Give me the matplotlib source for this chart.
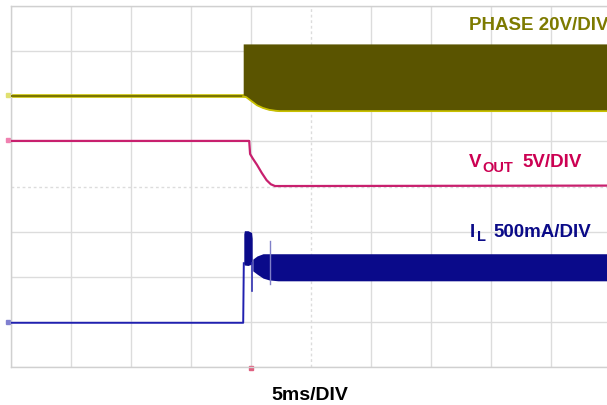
import numpy as np
import matplotlib.pyplot as plt

plt.rcParams['font.family'] = ['Liberation Sans', 'DejaVu Sans']

# scope readings, time in divisions (5 ms/div), level in divisions from bottom
phase_base_t = [0.0, 3.87]
phase_base_v = [6.0, 6.0]
phase_band_t = [3.87, 3.92, 4.0, 4.1, 4.2, 4.3, 4.4, 4.48, 10.0]
phase_band_top = [7.16, 7.16, 7.16, 7.16, 7.16, 7.16, 7.16, 7.16, 7.16]
phase_band_bot = [6.0, 5.98, 5.9, 5.8, 5.74, 5.7, 5.68, 5.67, 5.67]

vout_t = [0.0, 3.97, 3.985, 4.03, 4.1, 4.18, 4.26, 4.33, 4.4, 10.0]
vout_v = [5.01, 5.01, 4.72, 4.62, 4.48, 4.3, 4.14, 4.05, 4.01, 4.02]

il_base_t = [0.0, 3.87, 3.88]
il_base_v = [0.98, 0.98, 2.3]
il_blob_t = [3.88, 3.89, 3.95, 4.01, 4.02]
il_blob_top = [2.95, 3.02, 3.02, 2.98, 2.85]
il_blob_bot = [2.3, 2.26, 2.25, 2.28, 2.35]
il_dip_t = [4.02, 4.02]
il_dip_v = [2.3, 1.69]
il_band_t = [4.03, 4.1, 4.2, 4.3, 4.45, 10.0]
il_band_top = [2.39, 2.46, 2.51, 2.51, 2.51, 2.51]
il_band_bot = [2.13, 2.06, 1.97, 1.93, 1.91, 1.91]
il_tick_t = [4.32, 4.32]
il_tick_v = [2.79, 1.84]

W, H = 607, 406
fig = plt.figure(figsize=(W / 100, H / 100), dpi=100)
ax = fig.add_axes([11 / W, 38 / H, 600 / W, 361 / H])
ax.set_xlim(0, 10)
ax.set_ylim(0, 8)

# graticule
for x in range(11):
    ls = (0, (2, 2)) if x == 5 else '-'
    ax.axvline(x, color='#dcdcdc', lw=1, ls=ls, zorder=0)
for y in range(9):
    ls = (0, (2, 2)) if y == 4 else '-'
    ax.axhline(y, color='#dcdcdc', lw=1, ls=ls, zorder=0)
ax.set_xticks([])
ax.set_yticks([])
for s in ax.spines.values():
    s.set_color('#d0d0d0')
    s.set_linewidth(1)

# PHASE
ax.plot(phase_base_t, phase_base_v, color='#c8c000', lw=2.6, zorder=2)
ax.plot(phase_base_t, phase_base_v, color='#7a7400', lw=1.4, zorder=3)
ax.fill_between(phase_band_t, phase_band_bot, phase_band_top, color='#5a5400', lw=0, zorder=3)
ax.plot(phase_band_t, phase_band_bot, color='#c8c000', lw=1.3, zorder=4)

# VOUT
ax.plot(vout_t, vout_v, color='#c8206e', lw=1.6, zorder=3)

# IL
ax.plot(il_base_t, il_base_v, color='#2020b0', lw=1.4, zorder=3)
ax.fill_between(il_blob_t, il_blob_bot, il_blob_top, color='#0a0a8a', lw=0, zorder=3)
ax.plot(il_dip_t, il_dip_v, color='#3030b0', lw=1.2, zorder=3)
ax.fill_between(il_band_t, il_band_bot, il_band_top, color='#0a0a8a', lw=0, zorder=3)
ax.plot(il_tick_t, il_tick_v, color='#8080c8', lw=1, zorder=4)

# channel / trigger markers
ax.plot([-0.05], [6.02], marker='s', ms=3, color='#e0e070', clip_on=False)
ax.plot([-0.05], [5.03], marker='s', ms=3, color='#f080b0', clip_on=False)
ax.plot([-0.05], [1.0], marker='s', ms=3, color='#8080d0', clip_on=False)
ax.plot([4.0], [-0.03], marker='s', ms=3, color='#e06080', clip_on=False)


def px(x, y):
    return x / W, 1 - y / H


fig.text(*px(469, 30), 'PHASE 20V/DIV', color='#7d7a00', fontsize=13.5,
         fontweight='bold', va='baseline', ha='left')
fig.text(*px(469, 167), 'V', color='#cc0052', fontsize=13.5,
         fontweight='bold', va='baseline', ha='left')
fig.text(*px(482, 172), 'OUT', color='#cc0052', fontsize=10.5,
         fontweight='bold', va='baseline', ha='left')
fig.text(*px(522, 167), '5V/DIV', color='#cc0052', fontsize=13.5,
         fontweight='bold', va='baseline', ha='left')
fig.text(*px(470, 237), 'I', color='#0b0b88', fontsize=13.5,
         fontweight='bold', va='baseline', ha='left')
fig.text(*px(477, 241), 'L', color='#0b0b88', fontsize=10.5,
         fontweight='bold', va='baseline', ha='left')
fig.text(*px(493, 237), '500mA/DIV', color='#0b0b88', fontsize=13.5,
         fontweight='bold', va='baseline', ha='left')
fig.text(*px(310, 400), '5ms/DIV', color='black', fontsize=14,
         fontweight='bold', va='baseline', ha='center')

fig.savefig('out.png', dpi=100)
